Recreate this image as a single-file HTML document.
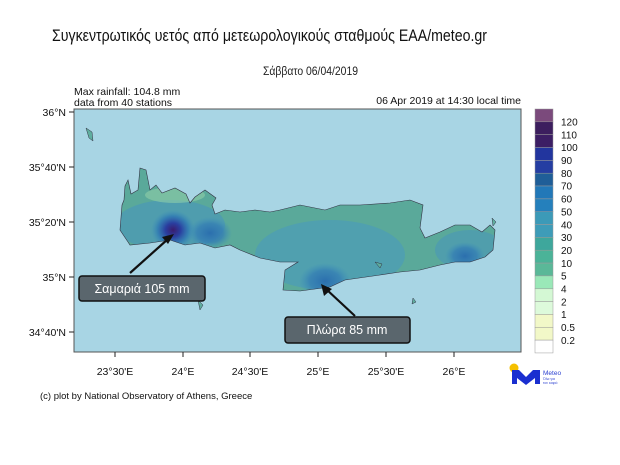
<!DOCTYPE html>
<html><head><meta charset="utf-8"><style>
html,body{margin:0;padding:0;background:#fff;}
svg{display:block;font-family:"Liberation Sans","DejaVu Sans",sans-serif;}
</style></head><body>
<svg width="620" height="465" viewBox="0 0 620 465" xmlns="http://www.w3.org/2000/svg">
<defs>
<radialGradient id="g1" cx="0.5" cy="0.5" r="0.5"><stop offset="0" stop-color="#3a1c6e"/><stop offset="0.35" stop-color="#2a3fa0"/><stop offset="0.7" stop-color="#2f79b4" stop-opacity="0.8"/><stop offset="1" stop-color="#3d8fb8" stop-opacity="0"/></radialGradient>
<radialGradient id="g2" cx="0.5" cy="0.5" r="0.5"><stop offset="0" stop-color="#2b6fae"/><stop offset="0.6" stop-color="#357fb4" stop-opacity="0.8"/><stop offset="1" stop-color="#3d8fb8" stop-opacity="0"/></radialGradient>
<clipPath id="crete"><path id="cp" d="M122,205 L120,230 L130,245 L150,243 L170,240 L185,245 L200,243 L215,248 L230,245 L240,250 L260,258 L280,262 L298,262 L285,270 L283,290 L300,291 L330,287 L345,280 L380,275 L400,272 L420,270 L440,265 L455,262 L470,262 L485,257 L493,250 L495,230 L490,225 L482,232 L470,225 L455,225 L440,232 L425,238 L420,228 L423,205 L410,200 L390,203 L360,205 L340,205 L325,210 L300,205 L280,210 L270,212 L255,210 L240,212 L225,210 L215,214 L212,205 L216,198 L205,190 L195,197 L190,203 L186,194 L175,188 L162,193 L156,185 L150,190 L146,170 L140,168 L138,190 L131,194 L128,180 L125,186 L124,200 Z"/></clipPath>
</defs>
<text x="52" y="41" textLength="435" lengthAdjust="spacingAndGlyphs" font-size="17" fill="#111">Συγκεντρωτικός υετός από μετεωρολογικούς σταθμούς ΕΑΑ/meteo.gr</text>
<text x="263" y="75" textLength="95" lengthAdjust="spacingAndGlyphs" font-size="12" fill="#222">Σάββατο 06/04/2019</text>
<text x="74" y="95" font-size="10.5" fill="#111">Max rainfall: 104.8 mm</text>
<text x="74" y="106" font-size="10.5" fill="#111">data from 40 stations</text>
<text x="521" y="104" text-anchor="end" font-size="10.5" fill="#111">06 Apr 2019 at 14:30 local time</text>
<rect x="74" y="109" width="447" height="243" fill="#a8d5e4" stroke="#555" stroke-width="1"/>
<g clip-path="url(#crete)">
<rect x="110" y="160" width="400" height="140" fill="#5aa99a"/>
<ellipse cx="330" cy="255" rx="75" ry="35" fill="#4c9db8" opacity="0.7"/>
<ellipse cx="170" cy="225" rx="55" ry="25" fill="#4a99b7" opacity="0.7"/>
<ellipse cx="470" cy="250" rx="35" ry="20" fill="#4a97b9" opacity="0.6"/>
<ellipse cx="173" cy="230" rx="22" ry="20" fill="url(#g1)"/>
<ellipse cx="210" cy="233" rx="22" ry="16" fill="url(#g2)"/>
<ellipse cx="325" cy="281" rx="26" ry="18" fill="url(#g2)"/>
<ellipse cx="465" cy="256" rx="20" ry="14" fill="url(#g2)"/>
<ellipse cx="175" cy="195" rx="30" ry="8" fill="#8fcfa8" opacity="0.6"/>
</g>
<use href="#cp" fill="none" stroke="#334" stroke-width="0.6"/>
<path d="M86,128 L92,132 L93,141 L89,138 Z M492,218 L496,222 L493,226 Z M198,300 L203,305 L200,310 Z M375,262 L382,264 L380,268 Z M413,298 L416,302 L412,304 Z" fill="#5fae9f" stroke="#334" stroke-width="0.5"/>
<g stroke="#222" stroke-width="1">
<line x1="115" y1="352" x2="115" y2="357"/><line x1="183" y1="352" x2="183" y2="357"/><line x1="250" y1="352" x2="250" y2="357"/><line x1="318" y1="352" x2="318" y2="357"/><line x1="386" y1="352" x2="386" y2="357"/><line x1="454" y1="352" x2="454" y2="357"/>
<line x1="69" y1="112" x2="74" y2="112"/><line x1="69" y1="167" x2="74" y2="167"/><line x1="69" y1="222" x2="74" y2="222"/><line x1="69" y1="277" x2="74" y2="277"/><line x1="69" y1="332" x2="74" y2="332"/>
</g>
<g font-size="10.5" fill="#111" text-anchor="middle">
<text x="115" y="375">23°30'E</text><text x="183" y="375">24°E</text><text x="250" y="375">24°30'E</text><text x="318" y="375">25°E</text><text x="386" y="375">25°30'E</text><text x="454" y="375">26°E</text>
</g>
<g font-size="10.5" fill="#111" text-anchor="end">
<text x="66" y="116">36°N</text><text x="66" y="171">35°40'N</text><text x="66" y="226">35°20'N</text><text x="66" y="281">35°N</text><text x="66" y="336">34°40'N</text>
</g>
<g stroke="#999" stroke-width="0.5">
<rect x="535" y="109.0" width="18" height="12.84" fill="#7b4a7c"/>
<rect x="535" y="121.8" width="18" height="12.84" fill="#3c1e5e"/>
<rect x="535" y="134.7" width="18" height="12.84" fill="#3c1e64"/>
<rect x="535" y="147.5" width="18" height="12.84" fill="#22359e"/>
<rect x="535" y="160.4" width="18" height="12.84" fill="#253ea2"/>
<rect x="535" y="173.2" width="18" height="12.84" fill="#1f5e98"/>
<rect x="535" y="186.0" width="18" height="12.84" fill="#2278b8"/>
<rect x="535" y="198.9" width="18" height="12.84" fill="#2580bc"/>
<rect x="535" y="211.7" width="18" height="12.84" fill="#3c9ab8"/>
<rect x="535" y="224.6" width="18" height="12.84" fill="#3e9cb8"/>
<rect x="535" y="237.4" width="18" height="12.84" fill="#3ea79c"/>
<rect x="535" y="250.2" width="18" height="12.84" fill="#4bb398"/>
<rect x="535" y="263.1" width="18" height="12.84" fill="#5ab898"/>
<rect x="535" y="275.9" width="18" height="12.84" fill="#9ae8b8"/>
<rect x="535" y="288.8" width="18" height="12.84" fill="#d4f8d4"/>
<rect x="535" y="301.6" width="18" height="12.84" fill="#ddfadb"/>
<rect x="535" y="314.4" width="18" height="12.84" fill="#f2f8c8"/>
<rect x="535" y="327.3" width="18" height="12.84" fill="#f2f8c8"/>
<rect x="535" y="340.1" width="18" height="12.84" fill="#ffffff"/>
</g>
<g font-size="10" fill="#111">
<text x="561" y="125.5">120</text><text x="561" y="138.4">110</text><text x="561" y="151.2">100</text><text x="561" y="164.1">90</text><text x="561" y="176.9">80</text><text x="561" y="189.7">70</text><text x="561" y="202.6">60</text><text x="561" y="215.4">50</text><text x="561" y="228.3">40</text><text x="561" y="241.1">30</text><text x="561" y="253.9">20</text><text x="561" y="266.8">10</text><text x="561" y="279.6">5</text><text x="561" y="292.5">4</text><text x="561" y="305.3">2</text><text x="561" y="318.1">1</text><text x="561" y="331">0.5</text><text x="561" y="343.8">0.2</text>
</g>
<g stroke="#111" stroke-width="2.2" fill="#111">
<line x1="130" y1="273" x2="168" y2="239"/><polygon points="174,234 162,237 168,244" stroke="none"/>
<line x1="355" y1="316" x2="326" y2="289"/><polygon points="321,284 324,296 332,289" stroke="none"/>
</g>
<rect x="79" y="276" width="126" height="25" rx="3" fill="#5a666d" stroke="#111" stroke-width="1.5"/>
<text x="142" y="293" text-anchor="middle" font-size="12.5" fill="#fff">Σαμαριά 105 mm</text>
<rect x="285" y="317" width="125" height="26" rx="3" fill="#5a666d" stroke="#111" stroke-width="1.5"/>
<text x="347" y="334" text-anchor="middle" font-size="12.5" fill="#fff">Πλώρα 85 mm</text>
<circle cx="514" cy="368" r="4.5" fill="#f5c000"/>
<path d="M512,384 L512,370 L519,370 L526,377 L533,370 L540,370 L540,384 L535,384 L535,378 L526,385 L517,378 L517,384 Z" fill="#1a2fd0"/>
<text x="543" y="375" font-size="6.5" fill="#2a3fd0">Meteo</text>
<text x="543" y="380" font-size="3.5" fill="#2a3fd0">Όλα για</text>
<text x="543" y="384" font-size="3.5" fill="#2a3fd0">τον καιρό</text>
<text x="40" y="399" font-size="9.5" fill="#111">(c) plot by National Observatory of Athens, Greece</text>
</svg>
</body></html>
